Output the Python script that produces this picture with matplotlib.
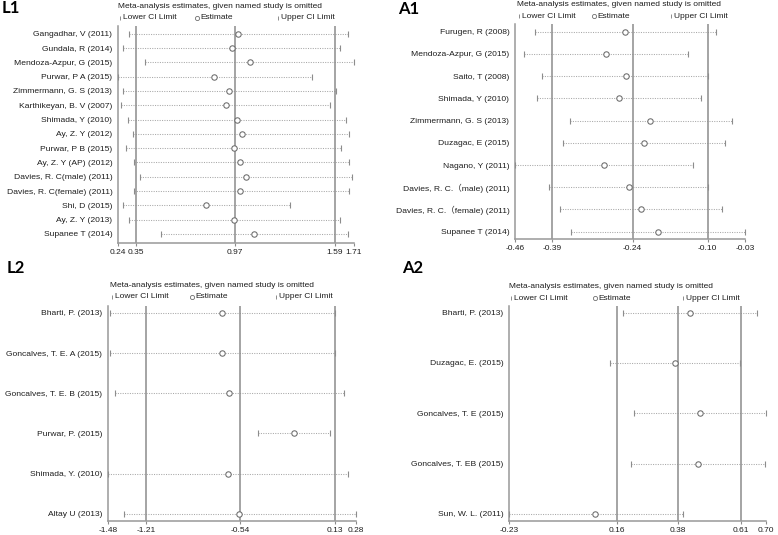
import matplotlib.pyplot as plt
from matplotlib.lines import Line2D

plt.rcParams['font.family'] = ['Liberation Sans', 'Noto Sans CJK SC', 'DejaVu Sans']

# ---- data ----
# L1
l1_studies = ["Gangadhar, V (2011)", "Gundala, R (2014)", "Mendoza-Azpur, G (2015)",
              "Purwar, P A (2015)", "Zimmermann, G. S (2013)", "Karthikeyan, B. V (2007)",
              "Shimada, Y (2010)", "Ay, Z. Y (2012)", "Purwar, P B (2015)",
              "Ay, Z. Y (AP) (2012)", "Davies, R. C(male) (2011)", "Davies, R. C(female) (2011)",
              "Shi, D (2015)", "Ay, Z. Y (2013)", "Supanee T (2014)"]
l1_est = [0.99, 0.95, 1.06, 0.84, 0.93, 0.91, 0.98, 1.01, 0.96, 1.00, 1.035, 1.00, 0.79, 0.965, 1.09]
l1_lower = [0.31, 0.27, 0.41, 0.24, 0.27, 0.26, 0.30, 0.335, 0.29, 0.34, 0.38, 0.34, 0.27, 0.31, 0.51]
l1_upper = [1.67, 1.625, 1.71, 1.45, 1.60, 1.56, 1.66, 1.68, 1.63, 1.68, 1.70, 1.68, 1.31, 1.62, 1.67]
l1_lines = [0.35, 0.97, 1.59]
l1_ticks = [0.24, 0.35, 0.97, 1.59, 1.71]

# A1
a1_studies = ["Furugen, R (2008)", "Mendoza-Azpur, G (2015)", "Saito, T (2008)",
              "Shimada, Y (2010)", "Zimmermann, G. S (2013)", "Duzagac, E (2015)",
              "Nagano, Y (2011)", "Davies, R. C.（male) (2011)", "Davies, R. C.（female) (2011)",
              "Supanee T (2014)"]
a1_est = [-0.254, -0.290, -0.252, -0.266, -0.207, -0.218, -0.294, -0.247, -0.225, -0.193]
a1_lower = [-0.422, -0.443, -0.409, -0.419, -0.358, -0.370, -0.46, -0.396, -0.376, -0.356]
a1_upper = [-0.085, -0.136, -0.100, -0.112, -0.054, -0.067, -0.127, -0.100, -0.073, -0.03]
a1_lines = [-0.39, -0.24, -0.10]
a1_ticks = [-0.46, -0.39, -0.24, -0.10, -0.03]

# L2
l2_studies = ["Bharti, P. (2013)", "Goncalves, T. E. A (2015)", "Goncalves, T. E. B (2015)",
              "Purwar, P. (2015)", "Shimada, Y. (2010)", "Altay U (2013)"]
l2_est = [-0.671, -0.671, -0.624, -0.163, -0.628, -0.548]
l2_lower = [-1.465, -1.465, -1.432, -0.413, -1.48, -1.368]
l2_upper = [0.128, 0.128, 0.192, 0.095, 0.225, 0.28]
l2_lines = [-1.21, -0.54, 0.13]
l2_ticks = [-1.48, -1.21, -0.54, 0.13, 0.28]

# A2
a2_studies = ["Bharti, P. (2013)", "Duzagac, E. (2015)", "Goncalves, T. E (2015)",
              "Goncalves, T. EB (2015)", "Sun, W. L. (2011)"]
a2_est = [0.426, 0.372, 0.462, 0.454, 0.081]
a2_lower = [0.184, 0.137, 0.221, 0.211, -0.23]
a2_upper = [0.669, 0.606, 0.70, 0.697, 0.40]
a2_lines = [0.16, 0.38, 0.61]
a2_ticks = [-0.23, 0.16, 0.38, 0.61, 0.70]

W, H = 778, 535
fig = plt.figure(figsize=(W / 100, H / 100), dpi=100)

LINE_C = '#8c8c8c'
DOT_C = '#a8a8a8'
TXT_C = '#1e1e1e'


def fx(x):
    return x / W


def fy(y):
    return 1 - y / H


def forest(box, names, est, lo, hi, lines, ticks, pad):
    left, top, right, bottom = box
    ax = fig.add_axes([fx(left), fy(bottom), (right - left) / W, (bottom - top) / H])
    n = len(names)
    ys = list(range(n))
    for i in ys:
        ax.plot([lo[i], hi[i]], [i, i], ls=(0, (1, 1.3)), lw=0.75, color=DOT_C, zorder=1)
    ax.plot(lo, ys, ls='none', marker='|', ms=4.5, mew=0.8, color=LINE_C, zorder=3, clip_on=False)
    ax.plot(hi, ys, ls='none', marker='|', ms=4.5, mew=0.8, color=LINE_C, zorder=3, clip_on=False)
    ax.plot(est, ys, ls='none', marker='o', ms=3.9, mfc='white', mec='#6a6a6a', mew=0.75, zorder=4)
    for v in lines:
        ax.axvline(v, color=LINE_C, lw=1.1, zorder=2)
    ax.set_xlim(ticks[0], ticks[-1])
    ax.set_ylim(n - 1 + pad[1], -pad[0])
    ax.set_xticks(ticks)
    ax.set_xticklabels(['%.2f' % t for t in ticks])
    ax.set_yticks(ys)
    ax.set_yticklabels(names)
    ax.tick_params(axis='y', length=0, pad=4, labelsize=6.1, labelcolor=TXT_C)
    ax.tick_params(axis='x', length=2.5, width=0.8, color=LINE_C, pad=1.5,
                   labelsize=6.0, labelcolor=TXT_C)
    for s in ['top', 'right']:
        ax.spines[s].set_visible(False)
    for s in ['left', 'bottom']:
        ax.spines[s].set_color('#999999')
        ax.spines[s].set_linewidth(1.1)
    return ax


def legend(x0, y0, xe, xu):
    fig.text(fx(x0), fy(y0), "Meta-analysis estimates, given named study is omitted",
             fontsize=6.0, color=TXT_C, va='center', ha='left')
    yl = y0 + 11
    fig.add_artist(Line2D([fx(x0 + 1.5)], [fy(yl)], marker='|', ms=3.5, mew=0.7,
                          color=LINE_C, transform=fig.transFigure))
    fig.text(fx(x0 + 5), fy(yl), "Lower CI Limit", fontsize=6.0, color=TXT_C, va='center')
    fig.add_artist(Line2D([fx(xe + 2)], [fy(yl)], marker='o', ms=3.0, mfc='white',
                          mec='#6e6e6e', mew=0.6, transform=fig.transFigure))
    fig.text(fx(xe + 5), fy(yl), "Estimate", fontsize=6.0, color=TXT_C, va='center')
    fig.add_artist(Line2D([fx(xu + 1.5)], [fy(yl)], marker='|', ms=3.5, mew=0.7,
                          color=LINE_C, transform=fig.transFigure))
    fig.text(fx(xu + 5), fy(yl), "Upper CI Limit", fontsize=6.0, color=TXT_C, va='center')


forest((118, 26, 354, 243), l1_studies, l1_est, l1_lower, l1_upper, l1_lines, l1_ticks, (0.54, 0.63))
forest((515, 24, 745, 239), a1_studies, a1_est, a1_lower, a1_upper, a1_lines, a1_ticks, (0.35, 0.33))
forest((108, 306, 356, 521), l2_studies, l2_est, l2_lower, l2_upper, l2_lines, l2_ticks, (0.17, 0.18))
forest((509, 306, 766, 521), a2_studies, a2_est, a2_lower, a2_upper, a2_lines, a2_ticks, (0.13, 0.14))

legend(118, 6.5, 195, 276)
legend(517, 5, 592, 669)
legend(110, 285.5, 190, 274)
legend(509, 287, 593, 681)

for lab, x, y in [("L1", 2, 8), ("A1", 398, 9), ("L2", 7, 268), ("A2", 402, 268)]:
    fig.text(fx(x), fy(y), lab, fontsize=12, fontweight='bold', family=['Lato', 'DejaVu Sans'],
             color='black', va='center', ha='left')

fig.savefig('out.png', dpi=100)
